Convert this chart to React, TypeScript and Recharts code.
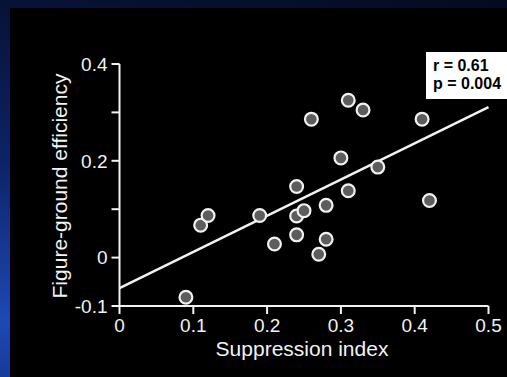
import { ScatterChart, Scatter, XAxis, YAxis, Label } from "recharts";

const suppression = [0.09, 0.11, 0.12, 0.19, 0.21, 0.24, 0.24, 0.24, 0.25, 0.26, 0.27, 0.28, 0.28, 0.3, 0.31, 0.31, 0.33, 0.35, 0.41, 0.42];
const efficiency = [-0.082, 0.067, 0.087, 0.087, 0.028, 0.147, 0.086, 0.047, 0.097, 0.286, 0.007, 0.108, 0.038, 0.206, 0.325, 0.138, 0.305, 0.187, 0.286, 0.118];

// regression line end points
const fitX = [0, 0.5];
const fitY = [-0.063, 0.311];

const xTicks = [0, 0.1, 0.2, 0.3, 0.4, 0.5];
const yTicks = [-0.1, 0, 0.1, 0.2, 0.3, 0.4];
const yLabelled = [-0.1, 0, 0.2, 0.4];

const stats = ["r = 0.61", "p = 0.004"];

const points = suppression.map((x, i) => ({ x, y: efficiency[i] }));
const fitLine = fitX.map((x, i) => ({ x, y: fitY[i] }));

const FONT = "'Liberation Sans', Arial, Helvetica, sans-serif";
const WHITE = "#f2f2f2";

function Dot(props: any) {
  const { cx, cy } = props;
  return <circle cx={cx} cy={cy} r={6.4} fill="#5d5d5d" stroke={WHITE} strokeWidth={2.2} />;
}

export default function App() {
  return (
    <div
      style={{
        position: "absolute",
        left: 0,
        top: 0,
        width: 507,
        height: 377,
        overflow: "hidden",
        background: "radial-gradient(ellipse at 0% 85%, #1f48b4 0%, #0d2366 35%, #06102e 75%, #040a20 100%)",
      }}
    >
      <div style={{ position: "absolute", left: 10, top: 8, width: 497, height: 369, background: "#000" }} />
      <div style={{ position: "absolute", left: 0, top: 0 }}>
        <ScatterChart width={507} height={377} margin={{ top: 64, right: 18.5, bottom: 21, left: 59.5 }}>
          <XAxis
            type="number"
            dataKey="x"
            domain={[0, 0.5]}
            ticks={xTicks}
            interval={0}
            tickFormatter={(v) => String(v)}
            height={50}
            axisLine={{ stroke: WHITE, strokeWidth: 2 }}
            tickLine={{ stroke: WHITE, strokeWidth: 2 }}
            tickSize={8}
            tickMargin={5}
            tick={{ fill: WHITE, fontSize: 19, fontFamily: FONT }}
          >
            <Label
              content={(p: any) => {
                const vb = p.viewBox;
                return (
                  <text x={vb.x + vb.width / 2 - 2} y={vb.y + 50} textAnchor="middle" fill={WHITE} fontSize={21} fontFamily={FONT}>
                    Suppression index
                  </text>
                );
              }}
            />
          </XAxis>
          <YAxis
            type="number"
            dataKey="y"
            domain={[-0.1, 0.4]}
            ticks={yTicks}
            interval={0}
            tickFormatter={(v) => (yLabelled.includes(v) ? String(v) : "")}
            width={60}
            axisLine={{ stroke: WHITE, strokeWidth: 2 }}
            tickLine={{ stroke: WHITE, strokeWidth: 2 }}
            tickSize={8}
            tickMargin={4}
            tick={{ fill: WHITE, fontSize: 19, fontFamily: FONT }}
          >
            <Label
              content={(p: any) => {
                const vb = p.viewBox;
                const x = vb.x + 7.5;
                const y = vb.y + vb.height / 2 + 1;
                return (
                  <text x={x} y={y} transform={`rotate(-90, ${x}, ${y})`} textAnchor="middle" fill={WHITE} fontSize={21} fontFamily={FONT}>
                    Figure-ground efficiency
                  </text>
                );
              }}
            />
          </YAxis>
          <Scatter
            data={fitLine}
            line={{ stroke: WHITE, strokeWidth: 2.5 }}
            shape={() => <g />}
            legendType="none"
            isAnimationActive={false}
          />
          <Scatter data={points} shape={<Dot />} isAnimationActive={false} />
        </ScatterChart>
      </div>
      <div
        style={{
          position: "absolute",
          left: 426,
          top: 52,
          width: 81,
          height: 46.5,
          background: "#fff",
          color: "#000",
          fontFamily: FONT,
          fontWeight: "bold",
          fontSize: 16,
          lineHeight: "18px",
          paddingLeft: 7,
          paddingTop: 5,
          boxSizing: "border-box",
        }}
      >
        {stats.map((s) => (
          <div key={s}>{s}</div>
        ))}
      </div>
    </div>
  );
}
